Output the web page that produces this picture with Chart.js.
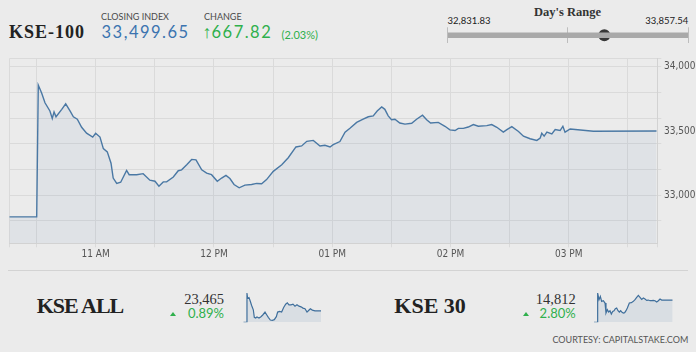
<!DOCTYPE html>
<html>
<head>
<meta charset="utf-8">
<script src="https://cdn.jsdelivr.net/npm/chart.js@4"></script>
<style>
  html, body { margin: 0; padding: 0; background: #ebebeb; }
  body { width: 696px; height: 352px; position: relative; overflow: hidden; }
  .t { position: absolute; line-height: 1; white-space: nowrap; }
  canvas { position: absolute; }
  .lato { font-family: Lato, "Open Sans", sans-serif; }
  .serif { font-family: "Liberation Serif", "DejaVu Serif", serif; }
  .lbl { font-size: 9px; color: #4a4a4a; }
  .up { color: #2fb04c; }
  .tri { position: absolute; width: 0; height: 0; border-left: 3px solid transparent; border-right: 3px solid transparent; border-bottom: 4px solid #2fb04c; }
  #sep { position: absolute; left: 8px; top: 270px; width: 680px; height: 1px; background: #d3d3d3; }
</style>
</head>
<body>

<!-- header -->
<div class="t serif" style="left:9px;top:22.6px;font-size:18px;font-weight:bold;letter-spacing:1px;color:#222">KSE-100</div>
<div class="t lato lbl" style="left:101px;top:11.8px">CLOSING INDEX</div>
<div class="t lato" id="close-val" style="left:101.5px;top:23.9px;font-size:16.5px;letter-spacing:1.5px;color:#3b74b0"></div>
<div class="t lato lbl" style="left:204px;top:11.8px">CHANGE</div>
<div class="t up" style="left:202.5px;top:22.6px;font-size:18px;font-weight:bold;font-family:'Liberation Sans',sans-serif">&#8593;</div>
<div class="t lato up" id="chg-val" style="left:211.5px;top:23.9px;font-size:16.5px;letter-spacing:1.5px"></div>
<div class="t lato up" id="chg-pct" style="left:281.5px;top:28.6px;font-size:11px"></div>

<!-- day's range -->
<div class="t serif" style="left:534px;top:5.5px;font-size:12.5px;font-weight:bold;color:#333">Day's Range</div>
<div class="t lato" id="range-low" style="left:447.5px;top:16.4px;font-size:9.5px;color:#222"></div>
<div class="t lato" id="range-high" style="right:7.7px;top:16.4px;font-size:9.5px;color:#222"></div>
<canvas id="range" width="256" height="30" style="left:440px;top:20px"></canvas>

<!-- main chart -->
<canvas id="main" width="696" height="215" style="left:0;top:50px"></canvas>
<div id="sep"></div>

<!-- KSE ALL -->
<div class="t serif" style="left:36.7px;top:294.5px;font-size:22px;font-weight:bold;letter-spacing:-1px;color:#222">KSE ALL</div>
<div class="t serif" style="right:472px;top:292.3px;font-size:14.5px;color:#333">23,465</div>
<div class="tri" style="left:169.5px;top:311.5px"></div>
<div class="t lato up" style="right:472px;top:307px;font-size:13px">0.89%</div>
<canvas id="spark-all" width="92" height="40" style="left:236px;top:288px"></canvas>

<!-- KSE 30 -->
<div class="t serif" style="left:394.3px;top:294.5px;font-size:22px;font-weight:bold;color:#222">KSE 30</div>
<div class="t serif" style="right:120.3px;top:292.3px;font-size:14.5px;color:#333">14,812</div>
<div class="tri" style="left:523px;top:311.5px"></div>
<div class="t lato up" style="right:120.3px;top:307px;font-size:13px">2.80%</div>
<canvas id="spark-30" width="92" height="40" style="left:588px;top:288px"></canvas>

<div class="t lato" style="right:7.7px;top:335.2px;font-size:9px;color:#555">COURTESY: CAPITALSTAKE.COM</div>

<script>
/* ---- KSE-100 intraday (minutes since midnight / index value) ---- */
const TIMES = [616.2, 630.1, 630.9, 632.6, 634.3, 636.8, 638.0, 638.9, 639.9, 642.8, 644.8, 647.0, 648.7, 650.7, 652.9, 655.4, 658.5, 660.0, 662.2, 663.9, 665.9, 667.8, 668.9, 670.7, 672.7, 675.7, 677.0, 680.8, 684.1, 687.5, 690.1, 692.1, 694.3, 696.0, 699.4, 701.9, 703.6, 706.2, 708.7, 710.9, 713.8, 716.3, 718.8, 721.7, 723.9, 726.1, 728.1, 730.2, 732.8, 735.7, 739.1, 741.7, 744.2, 746.7, 750.1, 754.4, 757.7, 761.6, 764.5, 767.1, 770.4, 773.8, 776.3, 778.9, 780.5, 783.9, 786.5, 789.0, 792.4, 795.7, 798.3, 800.8, 802.8, 805.1, 806.7, 808.4, 810.1, 811.8, 814.3, 816.9, 820.3, 822.8, 825.8, 827.9, 829.9, 833.8, 837.2, 839.7, 842.3, 844.0, 846.5, 849.0, 851.6, 854.1, 858.4, 860.9, 863.5, 866.8, 868.6, 871.1, 874.5, 877.0, 880.4, 883.8, 885.5, 886.3, 887.5, 888.9, 891.4, 893.1, 895.6, 897.0, 898.1, 900.7, 912.5, 944.5];
const KSE100 = [32831.83, 32831.83, 33857.54, 33796, 33720, 33656, 33598, 33649, 33611, 33669, 33712, 33656, 33611, 33592, 33529, 33483, 33453, 33483, 33453, 33363, 33338, 33249, 33134, 33092, 33101, 33193, 33160, 33160, 33168, 33117, 33109, 33071, 33104, 33104, 33142, 33191, 33198, 33237, 33279, 33275, 33198, 33172, 33160, 33109, 33134, 33155, 33130, 33084, 33058, 33079, 33084, 33092, 33089, 33122, 33186, 33237, 33292, 33376, 33384, 33420, 33427, 33384, 33389, 33376, 33394, 33418, 33491, 33522, 33567, 33592, 33611, 33618, 33656, 33687, 33669, 33618, 33588, 33592, 33562, 33554, 33560, 33592, 33623, 33588, 33562, 33567, 33537, 33509, 33504, 33521, 33521, 33531, 33550, 33537, 33542, 33550, 33529, 33491, 33511, 33534, 33496, 33460, 33440, 33427, 33445, 33483, 33460, 33491, 33478, 33511, 33504, 33537, 33491, 33516, 33498, 33499.65];

const X_MIN = 616.2, X_MAX = 944.9;
const X_GRID = [630, 660, 690, 720, 750, 780, 810, 840, 870, 900, 930];
const HOUR_TICKS = [660, 720, 780, 840, 900];
const HOUR_LABELS = ["11 AM", "12 PM", "01 PM", "02 PM", "03 PM"];

const Y_MIN = 32626, Y_MAX = 34063;
const Y_GRID = [32800, 33000, 33200, 33400, 33600, 33800, 34000];
const Y_LABELS = [33000, 33500, 34000];

/* ---- day's range ---- */
const RANGE_LOW = 32831.83, RANGE_HIGH = 33857.54, CLOSE = 33499.65;
const CHANGE = 667.82, CHANGE_PCT = 2.03;

/* ---- KSE ALL / KSE 30 sparklines ---- */
const ALL_TIMES = [616.2, 630.3, 631.7, 634.5, 640.2, 644.4, 651.5, 658.5, 662.8, 668.4, 674.0, 682.5, 691.0, 699.4, 708.1, 715.0, 722.0, 730.5, 739.0, 747.4, 755.9, 761.5, 770.0, 778.4, 786.9, 795.4, 802.4, 809.5, 817.9, 826.4, 834.9, 843.3, 851.8, 860.3, 868.7, 877.2, 885.7, 891.3, 899.8, 908.2, 919.5, 944.9];
const KSE_ALL = [23258, 23258, 23785, 23690, 23702, 23655, 23560, 23483, 23347, 23335, 23353, 23335, 23359, 23394, 23442, 23394, 23347, 23299, 23294, 23305, 23359, 23442, 23453, 23442, 23524, 23584, 23607, 23572, 23572, 23584, 23548, 23572, 23548, 23536, 23513, 23501, 23442, 23465, 23501, 23477, 23465, 23465];
const K30_TIMES = [616.2, 630.1, 631.5, 637.1, 642.7, 648.2, 655.2, 662.2, 666.3, 671.9, 677.5, 683.1, 688.6, 694.2, 699.8, 705.3, 710.9, 716.5, 722.1, 727.6, 733.2, 738.8, 744.3, 749.9, 755.5, 763.8, 772.2, 780.6, 787.5, 794.5, 801.4, 808.4, 815.4, 822.3, 829.3, 836.3, 843.2, 850.2, 857.2, 864.1, 871.1, 878.1, 885.0, 892.0, 898.9, 905.9, 944.9];
const KSE_30 = [14409, 14409, 14939, 14818, 14878, 14788, 14800, 14758, 14577, 14637, 14595, 14619, 14559, 14607, 14619, 14656, 14668, 14619, 14595, 14619, 14589, 14577, 14583, 14619, 14668, 14758, 14764, 14788, 14818, 14860, 14896, 14860, 14824, 14848, 14830, 14806, 14812, 14800, 14800, 14806, 14800, 14776, 14800, 14830, 14812, 14812, 14812];

const LINE = "#4a78a4";
const FILL = "rgba(74,120,164,0.07)";
const NARROW = "'Liberation Sans Narrow', 'DejaVu Sans Condensed', 'Liberation Sans', sans-serif";

function fmt(v, d){
  return v.toLocaleString("en-US", { minimumFractionDigits: d, maximumFractionDigits: d });
}
function pts(xs, ys){
  return xs.map((x, i) => ({ x: x, y: ys[i] }));
}
function setTicks(values){
  return s => { s.ticks = values.map(v => ({ value: v })); };
}

document.getElementById("close-val").textContent = fmt(CLOSE, 2);
document.getElementById("chg-val").textContent = fmt(CHANGE, 2);
document.getElementById("chg-pct").textContent = "(" + fmt(CHANGE_PCT, 2) + "%)";
document.getElementById("range-low").textContent = fmt(RANGE_LOW, 2);
document.getElementById("range-high").textContent = fmt(RANGE_HIGH, 2);

const noUi = { legend: { display: false }, tooltip: { enabled: false } };

// main intraday chart
new Chart(document.getElementById("main"), {
  type: "line",
  data: { datasets: [{
    data: pts(TIMES, KSE100),
    borderColor: LINE, borderWidth: 1.4, backgroundColor: FILL,
    fill: "start", pointRadius: 0, tension: 0
  }] },
  options: {
    responsive: false, animation: false, events: [],
    layout: { padding: { left: 9.3, top: 5, right: 0, bottom: 0 } },
    plugins: noUi,
    scales: {
      x: {
        type: "linear", min: X_MIN, max: X_MAX,
        afterBuildTicks: setTicks([X_MIN].concat(X_GRID, [X_MAX])),
        afterFit: s => { s.height = 21.7; },
        grid: { color: "#dadada", tickLength: 4 },
        border: { color: "#d2d2d2" },
        ticks: {
          autoSkip: false, maxRotation: 0, padding: 1, color: "#555",
          font: { family: NARROW, size: 10 },
          callback: v => { const i = HOUR_TICKS.indexOf(v); return i < 0 ? "" : HOUR_LABELS[i]; }
        }
      },
      y: {
        position: "right", min: Y_MIN, max: Y_MAX,
        afterBuildTicks: setTicks(Y_GRID.concat(Y_LABELS.filter(v => Y_GRID.indexOf(v) < 0), [Y_MAX]).sort((a, b) => a - b)),
        afterFit: s => { s.width = 38.7; },
        grid: {
          tickLength: 4,
          color: c => (Y_GRID.indexOf(c.tick.value) >= 0 || c.tick.value === Y_MAX) ? "#dadada" : "rgba(0,0,0,0)"
        },
        border: { color: "#d2d2d2" },
        ticks: {
          padding: 2.7, color: "#555",
          font: { family: NARROW, size: 10 },
          callback: v => Y_LABELS.indexOf(v) < 0 ? "" : fmt(v, 0)
        }
      }
    }
  }
});

// day's range slider
new Chart(document.getElementById("range"), {
  type: "line",
  data: { datasets: [
    { data: [{ x: RANGE_LOW, y: 0 }, { x: RANGE_HIGH, y: 0 }], borderColor: "#a9a9a9", borderWidth: 5.5, pointRadius: 0, borderCapStyle: "butt" },
    { data: [{ x: CLOSE, y: 0 }], showLine: false, pointRadius: 6, pointBackgroundColor: "#383838", pointBorderWidth: 0 }
  ] },
  options: {
    responsive: false, animation: false, events: [],
    layout: { padding: { left: 7.7, right: 7.7, top: 7.3, bottom: 6.7 } },
    plugins: noUi,
    scales: {
      x: {
        type: "linear", min: RANGE_LOW, max: RANGE_HIGH, z: 1,
        afterBuildTicks: setTicks([RANGE_LOW, (RANGE_LOW + RANGE_HIGH) / 2, RANGE_HIGH]),
        afterFit: s => { s.height = 0; },
        grid: { color: "#bdbdbd", drawTicks: false },
        border: { display: false },
        ticks: { display: false }
      },
      y: { display: false, min: -1, max: 1 }
    }
  }
});

function spark(id, xs, ys, yMin, yMax, padLeft, padRight){
  new Chart(document.getElementById(id), {
    type: "line",
    data: { datasets: [{
      data: pts(xs, ys), borderColor: "#3f6f9c", borderWidth: 1.2,
      backgroundColor: "rgba(74,120,164,0.11)", fill: "start", pointRadius: 0, tension: 0
    }] },
    options: {
      responsive: false, animation: false, events: [],
      layout: { padding: { left: padLeft, right: padRight, top: 4.7, bottom: 5.7 } },
      plugins: noUi,
      scales: {
        x: { type: "linear", display: false, min: X_MIN, max: X_MAX },
        y: { display: false, min: yMin, max: yMax }
      }
    }
  });
}

spark("spark-all", ALL_TIMES, KSE_ALL, 23258, 23790, 7.3, 7);
spark("spark-30", K30_TIMES, KSE_30, 14409, 14945, 6, 7.3);
</script>
</body>
</html>
